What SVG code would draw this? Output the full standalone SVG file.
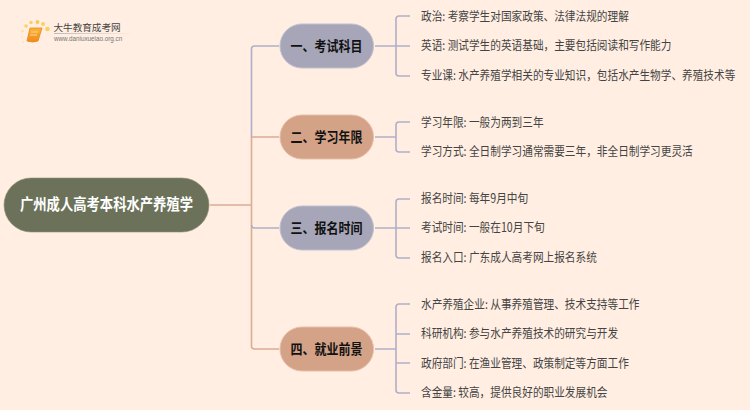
<svg xmlns="http://www.w3.org/2000/svg" width="750" height="410" viewBox="0 0 750 410">
<style>
.c{fill:none;stroke-width:1.6}
.b{stroke:#afb0c8}
.o{stroke:#dcab93}
.n{font-family:"Noto Sans CJK SC","Liberation Sans",sans-serif;font-size:14px;font-weight:700;fill:#111;text-anchor:middle;transform-box:fill-box;transform-origin:center;transform:scaleX(.857)}
.l{font-family:"Noto Sans CJK SC","Liberation Sans",sans-serif;font-size:12.5px;fill:#444;transform-box:fill-box;transform-origin:left center;transform:scaleX(.853)}
.r{font-family:"Noto Sans CJK SC","Liberation Sans",sans-serif;font-size:15.6px;font-weight:700;fill:#fff;text-anchor:middle;transform-box:fill-box;transform-origin:center;transform:scaleX(.854)}
.s1{fill:#a6a6b8;stroke:#c0c0cf}
.s2{fill:#d4a287;stroke:#e6bfa9}
</style>
<defs><linearGradient id="bk" x1="0" y1="0" x2="0" y2="1"><stop offset="0" stop-color="#fbb53a"/><stop offset="1" stop-color="#ee8a18"/></linearGradient>
<linearGradient id="ul" x1="0" y1="0" x2="1" y2="0"><stop offset="0" stop-color="#bbb"/><stop offset="1" stop-color="#ffeee1"/></linearGradient></defs>
<rect width="750" height="410" fill="#ffeee1"/>
<g id="logo">
<circle cx="23" cy="42" r="1" fill="#fde6a8"/><circle cx="22.500" cy="31" r="1.300" fill="#fde0a0"/><circle cx="26" cy="26" r="1.700" fill="#fbcf60"/><circle cx="31" cy="22.500" r="1.800" fill="#fbcf60"/><circle cx="37.500" cy="22" r="1.900" fill="#fbc84f"/><circle cx="43" cy="24" r="2" fill="#fbcf60"/><circle cx="47.500" cy="29" r="2.300" fill="#fbcf60"/><circle cx="22" cy="37" r="1" fill="#fde6a8"/>
<path d="M30 28H42L38 41Q33 43 27 41Z" fill="url(#bk)" stroke="#e8861a" stroke-width=".8"/>
<path d="M31 32H38M30 35H37" stroke="#ffe2a8" stroke-width=".8" fill="none"/>
<text x="53.500" y="31" font-family="'Noto Sans CJK SC',sans-serif" font-size="9.600" fill="#444">大牛教育成考网</text>
<rect x="54" y="33" width="80" height="1" fill="url(#ul)"/>
<text x="54" y="41" font-family="'Liberation Sans',sans-serif" font-size="6.300" fill="#777">www.daniuxueiao.org.cn</text>
</g>
<g id="connectors">
<path class="c o" d="M210 205H251.500"/>
<path class="c b" d="M279 46H254.500Q251.500 46 251.500 49V137"/>
<path class="c o" d="M279 137H251.500V346Q251.500 349 254.500 349H279"/>
<path class="c b" d="M251.500 225Q251.500 228 254.500 228H279"/>
<path class="c b" d="M375 46H410M396 46V19Q396 16 399 16H410M396 46V73Q396 76 399 76H410"/>
<path class="c b" d="M375 137H396M396 137V125Q396 122 399 122H410M396 137V149Q396 152 399 152H410"/>
<path class="c b" d="M375 228H410M396 228V202Q396 199 399 199H410M396 228V255Q396 258 399 258H410"/>
<path class="c b" d="M375 349H396M396 349V307Q396 304 399 304H410M396 334H410M396 349V363H410M396 349V390Q396 393 399 393H410"/>
</g>
<g id="root"><rect x="4" y="178" width="205" height="54" rx="27" fill="#6b7259" stroke="#8b917c" stroke-width=".6"/><text class="r" x="106.500" y="210">广州成人高考本科水产养殖学</text></g>
<g id="n1"><rect class="s1" x="280" y="24" width="93.500" height="44" rx="22"/><text class="n" x="326.500" y="51">一、考试科目</text></g>
<g id="n2"><rect class="s2" x="280" y="115" width="93.500" height="44" rx="22"/><text class="n" x="326.500" y="142">二、学习年限</text></g>
<g id="n3"><rect class="s1" x="280" y="206" width="93.500" height="44" rx="22"/><text class="n" x="326.500" y="233">三、报名时间</text></g>
<g id="n4"><rect class="s2" x="280" y="327" width="93.500" height="44" rx="22"/><text class="n" x="326.500" y="354">四、就业前景</text></g>
<g id="leaves">
<text class="l" x="421" y="21">政治: 考察学生对国家政策、法律法规的理解</text>
<text class="l" x="421" y="50.500">英语: 测试学生的英语基础，主要包括阅读和写作能力</text>
<text class="l" x="421" y="80">专业课: 水产养殖学相关的专业知识，包括水产生物学、养殖技术等</text>
<text class="l" x="421" y="127">学习年限: 一般为两到三年</text>
<text class="l" x="421" y="156.500">学习方式: 全日制学习通常需要三年，非全日制学习更灵活</text>
<text class="l" x="421" y="203.500">报名时间: 每年9月中旬</text>
<text class="l" x="421" y="232.500">考试时间: 一般在10月下旬</text>
<text class="l" x="421" y="262">报名入口: 广东成人高考网上报名系统</text>
<text class="l" x="421" y="309">水产养殖企业: 从事养殖管理、技术支持等工作</text>
<text class="l" x="421" y="338.500">科研机构: 参与水产养殖技术的研究与开发</text>
<text class="l" x="421" y="368">政府部门: 在渔业管理、政策制定等方面工作</text>
<text class="l" x="421" y="397.500">含金量: 较高，提供良好的职业发展机会</text>
</g>
</svg>
